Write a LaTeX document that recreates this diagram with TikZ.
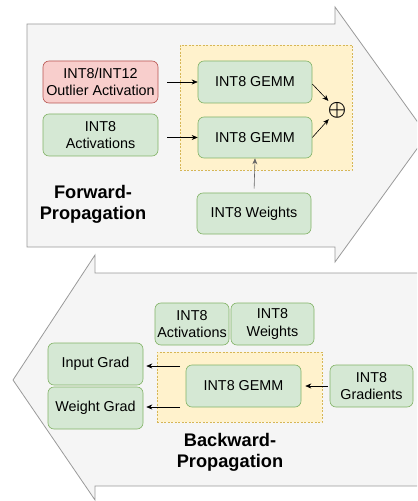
\documentclass[tikz,border=0pt]{standalone}
\usepackage{fontspec}
\setmainfont{Liberation Sans}
\usepackage{amsmath}
\usetikzlibrary{arrows.meta, positioning}
\definecolor{bodyfill}{HTML}{F5F5F5}
\definecolor{bodyline}{HTML}{9A9A9A}
\definecolor{opgreen}{HTML}{D5E8D4}
\definecolor{opgreenline}{HTML}{82B366}
\definecolor{outred}{HTML}{F8CECC}
\definecolor{outredline}{HTML}{B85450}
\definecolor{gemmyellow}{HTML}{FFF2CC}
\definecolor{gemmyellowline}{HTML}{D6B656}
\definecolor{feedgray}{HTML}{666666}

\tikzset{
  opbox/.style={draw=opgreenline, fill=opgreen, rounded corners=6bp, align=center, inner sep=0pt, line width=0.6bp,
    font=\fontsize{14.4}{17.5}\selectfont},
  outbox/.style={opbox, draw=outredline, fill=outred},
  gemmarea/.style={draw=gemmyellowline, fill=gemmyellow, dash pattern=on 2bp off 1.5bp, line width=0.6bp, inner sep=0pt},
  flow/.style={-{Stealth[length=6bp, width=5bp]}, line width=0.6bp},
  phase/.style={align=center, font=\fontsize{18.3}{21}\selectfont\bfseries},
}

\begin{document}
\begin{tikzpicture}[x=1bp, y=-1bp]
  \useasboundingbox (0,0) rectangle (417,501);
  \clip (0,0) rectangle (417,501);

  % Forward arrow
  \draw[fill=bodyfill, draw=bodyline, line width=0.8bp] (27,24) -- (335,24) -- (335,7) -- (427,135)
    -- (335,262) -- (335,247) -- (27,247) -- cycle;

  % Backward arrow
  \draw[fill=bodyfill, draw=bodyline, line width=0.8bp] (430,273) -- (95,273) -- (95,255) -- (13,380)
    -- (95,500) -- (95,486) -- (430,486) -- cycle;

  % Forward GEMM area
  \node[gemmarea, minimum width=172bp, minimum height=125bp] (farea) at (266,107.5) {};
  \node[outbox, minimum width=115bp, minimum height=42bp] (outl) at (100.5,82) {INT8/INT12\\Outlier Activation};
  \node[opbox, minimum width=115bp, minimum height=42bp] (act) at (100.5,135) {INT8\\Activations};
  \node[opbox, minimum width=114bp, minimum height=42bp] (gemma) at (255,82) {INT8 GEMM};
  \node[opbox, minimum width=114bp, minimum height=41bp] (gemmb) at (255,137.5) {INT8 GEMM};
  \node[opbox, minimum width=114bp, minimum height=41bp] (wts) at (254,213.5) {INT8 Weights};
  \node[inner sep=1bp, font=\fontsize{20}{20}\selectfont] (sum) at (337,110) {$\boldsymbol{\oplus}$};
  \node[phase] (fwd) at (93,204) {Forward-\\Propagation};

  \draw[flow, shorten <=9bp] (outl.east) -- (gemma.west);
  \draw[flow, shorten <=9bp] (act.east |- gemmb.west) -- (gemmb.west);
  \draw[flow] ([yshift=-2bp]gemma.east) -- (sum);
  \draw[flow] (gemmb.east) -- (sum);
  \draw[flow, feedgray, shorten <=4bp] (wts.north) -- (gemmb.south);

  % Backward GEMM area
  \node[gemmarea, minimum width=165bp, minimum height=70bp] (barea) at (239.5,387) {};
  \node[opbox, minimum width=74bp, minimum height=42bp] (bact) at (192,324) {INT8\\Activations};
  \node[opbox, minimum width=83bp, minimum height=42bp] (bwts) at (272.5,324) {INT8\\Weights};
  \node[opbox, minimum width=115bp, minimum height=42bp] (bgemm) at (243.5,386) {INT8 GEMM};
  \node[opbox, minimum width=95bp, minimum height=42bp] (igrad) at (95.5,364) {Input Grad};
  \node[opbox, minimum width=95bp, minimum height=42bp] (wgrad) at (95.5,408) {Weight Grad};
  \node[opbox, minimum width=83bp, minimum height=42bp] (grads) at (371.5,386) {INT8\\Gradients};
  \node[phase] (bwd) at (230,452) {Backward-\\Propagation};

  \coordinate (iout) at (180,366);
  \coordinate (wout) at (180,407);
  \draw[flow, shorten <=2bp, shorten >=4bp] (grads.west) -- (bgemm.east);
  \draw[flow, shorten >=3bp] (iout) -- (igrad.east |- iout);
  \draw[flow, shorten >=3bp] (wout) -- (wgrad.east |- wout);
\end{tikzpicture}
\end{document}
